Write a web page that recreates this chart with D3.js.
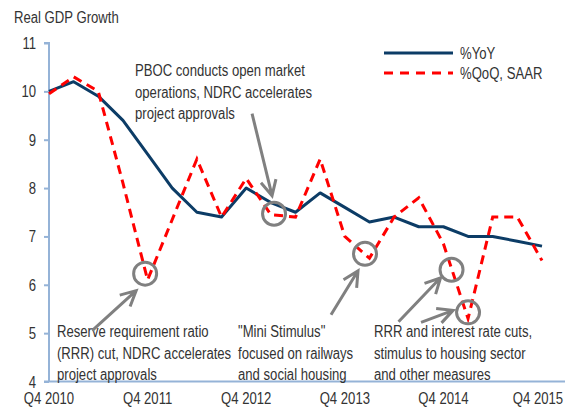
<!DOCTYPE html>
<html><head><meta charset="utf-8">
<script src="https://cdn.jsdelivr.net/npm/d3@7"></script>
<style>
html,body{margin:0;padding:0;background:#fff;}
svg text{font-family:"Liberation Sans",Arial,sans-serif;fill:#333;font-size:16px;}
</style></head>
<body><svg id="c" width="566" height="409"></svg>
<script>
const quarters = ["Q4 2010","Q1 2011","Q2 2011","Q3 2011","Q4 2011","Q1 2012","Q2 2012","Q3 2012","Q4 2012","Q1 2013","Q2 2013","Q3 2013","Q4 2013","Q1 2014","Q2 2014","Q3 2014","Q4 2014","Q1 2015","Q2 2015","Q3 2015","Q4 2015"];
const yoy = [10.0,10.2,9.9,9.4,8.7,8.0,7.5,7.4,8.0,7.7,7.5,7.9,7.6,7.3,7.4,7.2,7.2,7.0,7.0,6.9,6.8];
const qoq = [9.95,10.3,10.0,8.1,6.1,7.35,8.6,7.4,8.2,7.45,7.4,8.6,7.0,6.55,7.4,7.8,6.85,5.3,7.4,7.4,6.5];
const yTicks = [4,5,6,7,8,9,10,11];
const xTickLabels = ["Q4 2010","Q4 2011","Q4 2012","Q4 2013","Q4 2014","Q4 2015"];
const seriesNames = ["%YoY","%QoQ, SAAR"];
// annotation circles: [quarter position, value]
const circles = [[3.9,6.23],[9.13,7.47],[12.82,6.64],[16.33,6.31],[17.0,5.43]];
const notes = [
  {lines:["PBOC conducts open market","operations, NDRC accelerates","project approvals"], x:135, y:76},
  {lines:["Reserve requirement ratio","(RRR) cut, NDRC accelerates","project approvals"], x:57, y:337},
  {lines:["\"Mini Stimulus\"","focused on railways","and social housing"], x:238, y:337},
  {lines:["RRR and interest rate cuts,","stimulus to housing sector","and other measures"], x:374, y:337}
];
// arrows: circle index, start offset from circle center, tip offset
const arrows = [
  {c:0, from:[-53,57], to:[-9,17]},
  {c:1, from:[-22,-100], to:[-2,-18]},
  {c:2, from:[-34,61], to:[-7,17]},
  {c:3, from:[-53,52], to:[-11,8]},
  {c:4, from:[-47,10], to:[-15,-2]}
];

const SX = 0.82; // condensed look
const svg = d3.select("#c");
function txt(parent, px, py, s, anchor){
  return parent.append("g").attr("transform",`translate(${px},${py}) scale(${SX},1)`)
    .append("text").attr("text-anchor",anchor||"start").text(s);
}
const x = d3.scaleLinear().domain([0, quarters.length-1]).range([49, 542]);
const y = d3.scaleLinear().domain([4, 11]).range([381.5, 43]);
const axisColor = "#95b3d7";
const navy = "#0c3c66", red = "#ff0000", gray = "#808080";

// Y axis
const yAxis = d3.axisLeft(y).tickValues(yTicks).tickSize(5).tickFormat("");
const gy = svg.append("g").attr("transform","translate(49,0)").call(yAxis);
gy.select(".domain").attr("stroke",axisColor).attr("stroke-width",2).attr("d","M-5,43H0V381.5");
gy.selectAll(".tick line").attr("stroke",axisColor).attr("stroke-width",2);
gy.selectAll(".tick text").remove();
yTicks.forEach(v => txt(svg, 36, y(v)+6, String(v), "end"));

// X axis
const xIdx = xTickLabels.map(l => quarters.indexOf(l));
const xAxis = d3.axisBottom(x).tickValues(xIdx).tickSize(0).tickFormat("");
const gx = svg.append("g").attr("transform","translate(0,381.5)").call(xAxis);
gx.select(".domain").attr("stroke",axisColor).attr("stroke-width",2).attr("d","M44,0H565");
gx.selectAll(".tick text").remove();
xIdx.forEach(i => txt(svg, Math.min(x(i), 538), 404, quarters[i], "middle"));

// title
txt(svg, 14, 23, "Real GDP Growth");

// lines
const line = d3.line().x((d,i)=>x(i)).y(d=>y(d));
svg.append("path").datum(yoy).attr("d",line).attr("fill","none").attr("stroke",navy).attr("stroke-width",3).attr("stroke-linejoin","round");
svg.append("path").datum(qoq).attr("d",line).attr("fill","none").attr("stroke",red).attr("stroke-width",3).attr("stroke-dasharray","9,6");

// legend
const leg = svg.append("g");
leg.append("line").attr("x1",384).attr("x2",453).attr("y1",53).attr("y2",53).attr("stroke",navy).attr("stroke-width",3);
leg.append("line").attr("x1",384).attr("x2",453).attr("y1",73).attr("y2",73).attr("stroke",red).attr("stroke-width",3).attr("stroke-dasharray","9,7");
txt(leg, 460, 59, seriesNames[0]);
txt(leg, 460, 79, seriesNames[1]);

// annotations
notes.forEach(n=>{
  n.lines.forEach((l,i)=> txt(svg, n.x, n.y + i*21.5, l));
});
svg.selectAll("circle.ann").data(circles).enter().append("circle")
  .attr("cx",d=>x(d[0])).attr("cy",d=>y(d[1])).attr("r",11.5)
  .attr("fill","none").attr("stroke",gray).attr("stroke-width",3);
arrows.forEach(a=>{
  const cx = x(circles[a.c][0]), cy = y(circles[a.c][1]);
  const sx = cx + a.from[0], sy = cy + a.from[1];
  const tx = cx + a.to[0], ty = cy + a.to[1];
  const ang = Math.atan2(sy-ty, sx-tx);
  const L = 17, da = 0.47;
  const p = `M${sx},${sy}L${tx},${ty}M${tx+L*Math.cos(ang+da)},${ty+L*Math.sin(ang+da)}L${tx},${ty}L${tx+L*Math.cos(ang-da)},${ty+L*Math.sin(ang-da)}`;
  svg.append("path").attr("d",p).attr("fill","none").attr("stroke",gray).attr("stroke-width",3).attr("stroke-linejoin","miter");
});
</script></body></html>
